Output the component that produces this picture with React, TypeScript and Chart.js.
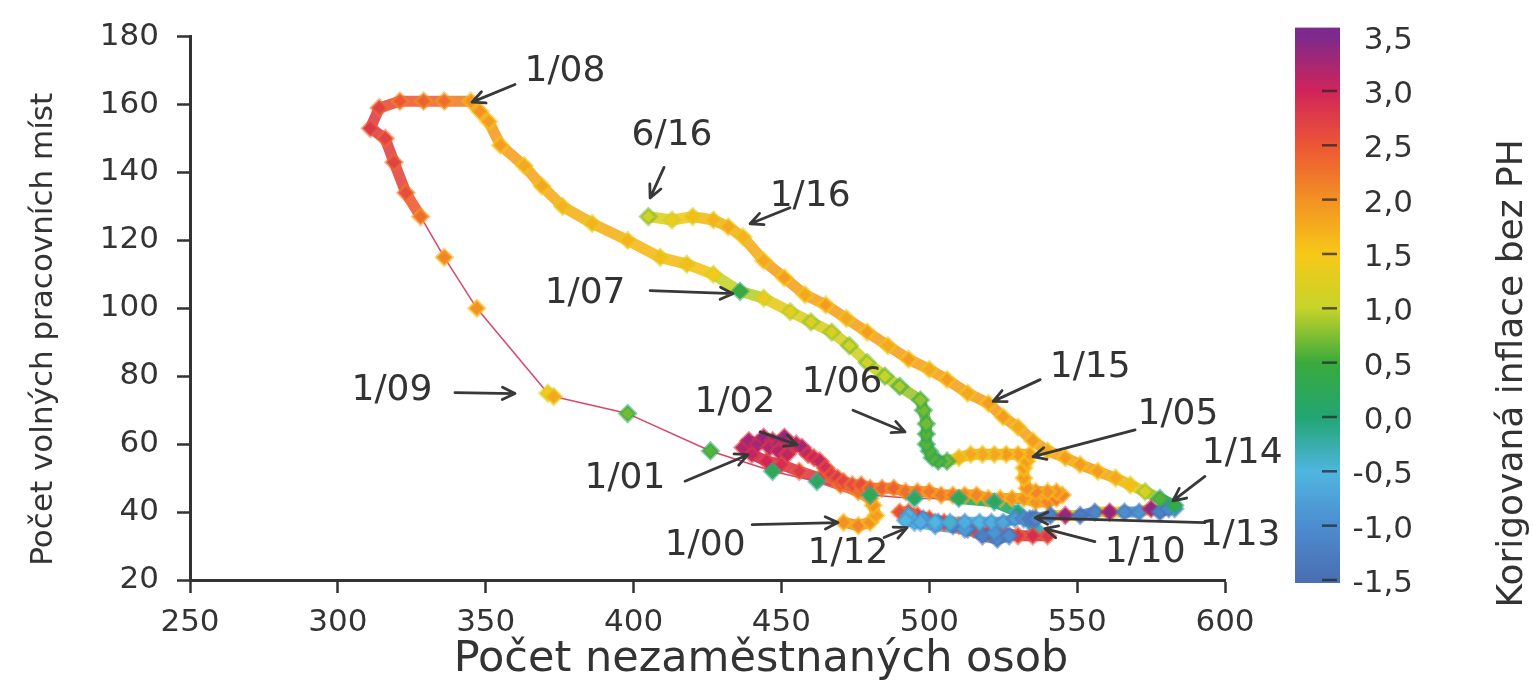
import React, { useEffect, useRef } from "react";
import { Chart, registerables } from "chart.js";

Chart.register(...registerables);

// Monthly path 1/2000 – 6/2016 (thousands)
const unemployed: number[] = [
  471, 476, 480, 482, 481, 480, 476, 470, 463, 456, 450, 445, // 2000
  440, 437, 439, 442, 444, 447, 446, 449, 451, 453, 449, 452, // 2001
  455, 457, 459, 461, 463, 465, 467, 469, 471, 474, 477, 480, // 2002
  484, 488, 492, 496, 500, 504, 508, 512, 516, 520, 524, 528, // 2003
  532, 536, 540, 543, 545, 543, 540, 536, 533, 532, 532, 533, // 2004
  534, 530, 526, 522, 518, 514, 510, 506, 503, 501, 500, 499, // 2005
  499, 499, 498, 497, 490, 485, 479, 473, 467, 460, 453, 444, // 2006
  436, 427, 418, 409, 398, 386, 376, 369, 363, 355, 351, 348, // 2007
  345, 336, 329, 321, 314, 311, 316, 319, 323, 328, 336, 347, // 2008
  371, 373, 398, 426, 447, 462, 480, 495, 510, 522, 530, 536, // 2009
  540, 535, 530, 525, 520, 515, 510, 505, 500, 496, 493, 490, // 2010
  493, 498, 503, 508, 513, 518, 523, 527, 522, 512, 502, 495, // 2011
  492, 497, 502, 507, 512, 517, 521, 525, 529, 532, 534, 535, // 2012
  536, 541, 546, 551, 556, 561, 566, 571, 575, 578, 581, 583, // 2013
  583, 578, 573, 568, 563, 557, 551, 546, 540, 535, 530, 525, // 2014
  520, 513, 506, 500, 493, 486, 479, 472, 465, 458, 451, 444, // 2015
  437, 432, 427, 420, 413, 405, // 2016
];

const vacancies: number[] = [
  37, 36, 37, 39, 42, 44, 46, 48, 50, 52, 54, 55, // 2000
  57, 59, 61, 60, 62, 61, 59, 60, 62, 60, 58, 57, // 2001
  60, 59, 57, 56, 55, 53, 51, 50, 49, 48, 48, 47, // 2002
  47, 47, 46, 46, 46, 45, 45, 45, 45, 44, 44, 44, // 2003
  44, 43, 43, 44, 45, 46, 46, 46, 47, 50, 53, 55, // 2004
  57, 57, 57, 57, 57, 57, 56, 55, 55, 56, 58, 60, // 2005
  63, 66, 70, 73, 77, 80, 84, 89, 93, 96, 99, 103, // 2006
  105, 110, 113, 115, 120, 125, 130, 136, 142, 148, 155, 158, // 2007
  161, 161, 161, 161, 159, 153, 150, 143, 134, 127, 115, 100, // 2008
  75, 74, 69, 58, 52, 49, 45, 44, 44, 43, 40, 35, // 2009
  33, 33, 33, 34, 34, 35, 36, 37, 38, 39, 40, 40, // 2010
  39, 38, 37, 36, 35, 33, 32, 33, 34, 35, 36, 37, // 2011
  37.5, 37, 37, 37, 37, 37, 37, 37, 38, 38, 38, 38, // 2012
  38, 39, 39, 39, 40, 40, 40, 40, 41, 40, 41, 41, // 2013
  42, 44, 46, 48, 50, 52, 54, 56, 58, 61, 65, 68, // 2014
  72, 75, 79, 82, 85, 89, 93, 97, 101, 104, 109, 114, // 2015
  121, 124, 126, 127, 126, 127, // 2016
];

const inflation: number[] = [
  2.0, 2.1, 2.0, 1.9, 2.0, 2.1, 2.3, 2.5, 2.7, 2.8, 2.9, 3.0, // 2000
  3.1, 3.2, 3.3, 3.3, 3.4, 3.3, 3.2, 3.3, 3.4, 3.3, 3.2, 3.1, // 2001
  3.2, 3.3, 3.1, 3.0, 3.1, 2.9, 2.8, 2.8, 2.7, 2.6, 2.6, 2.5, // 2002
  2.4, 2.4, 2.3, 2.3, 2.2, 2.2, 2.2, 2.1, 2.1, 2.1, 2.0, 2.0, // 2003
  2.0, 2.0, 2.1, 2.2, 2.1, 2.0, 2.0, 2.1, 2.0, 1.9, 1.9, 1.9, // 2004
  1.9, 1.9, 1.9, 1.8, 1.8, 1.8, 1.7, 0.7, 0.6, 0.6, 0.6, 0.6, // 2005
  0.6, 0.7, 0.7, 0.8, 0.9, 1.0, 1.1, 1.1, 1.2, 1.2, 1.3, 1.4, // 2006
  0.5, 1.5, 1.6, 1.6, 1.7, 1.7, 1.7, 1.8, 1.8, 1.9, 1.9, 2.0, // 2007
  2.0, 2.3, 2.4, 2.5, 2.7, 2.8, 2.7, 2.7, 2.6, 2.3, 2.1, 2.0, // 2008
  1.5, 1.8, 0.7, 0.6, 0.3, 0.2, 0.3, 0.2, 0.3, 0.2, 0.0, -0.3, // 2009
  2.8, 2.9, 2.8, 2.7, 2.8, 2.7, 2.6, 2.8, 2.7, 2.8, 2.7, 2.6, // 2010
  -0.5, -0.8, -1.0, -1.2, -1.3, -1.2, -1.1, -1.0, -0.9, -0.8, -0.6, -0.5, // 2011
  -0.5, -0.6, -0.5, -0.4, -0.6, -0.5, -0.6, -0.7, -0.8, -0.9, -1.0, -1.0, // 2012
  -1.1, -1.2, 3.4, -1.3, -1.1, 3.4, -1.0, -0.9, 3.4, -1.2, -1.0, -0.8, // 2013
  0.4, 0.6, 1.2, 1.6, 1.8, 1.9, 1.9, 1.9, 1.8, 1.9, 1.8, 1.9, // 2014
  1.9, 1.8, 1.9, 1.8, 1.9, 1.8, 1.9, 1.8, 1.9, 1.8, 1.9, 1.8, // 2015
  1.7, 1.8, 1.7, 1.6, 1.4, 1.1, // 2016
];

const xTickValues = [250, 300, 350, 400, 450, 500, 550, 600];
const yTickValues = [20, 40, 60, 80, 100, 120, 140, 160, 180];
const colorbarTicks = [3.5, 3.0, 2.5, 2.0, 1.5, 1.0, 0.5, 0.0, -0.5, -1.0, -1.5];
const colorStopValues = [-1.5, -1.0, -0.5, 0.0, 0.5, 1.0, 1.5, 2.0, 2.5, 3.0, 3.5];
const colorStopColors = [
  "#4a6fb3", "#4c8dcf", "#4fb6e0", "#22a572", "#3aaa3c", "#c6d42a",
  "#f7c817", "#f39124", "#ec5634", "#d1245a", "#7d2a8c",
];

const xTitle = "Počet nezaměstnaných osob";
const yTitle = "Počet volných pracovních míst";
const cbTitle = "Korigovaná inflace bez PH";

// Annotations (data coordinates)
const annLabels = ["1/08", "6/16", "1/16", "1/07", "1/15", "1/06", "1/09", "1/02", "1/05", "1/14", "1/01", "1/13", "1/00", "1/12", "1/10"];
const annTextX = [376.8, 413.0, 459.7, 383.6, 554.4, 470.5, 318.3, 434.3, 584.1, 605.8, 397.1, 605.1, 424.2, 472.5, 573.0];
const annTextY = [169.7, 150.8, 132.8, 104.3, 82.5, 78.1, 75.8, 72.3, 68.8, 57.2, 49.7, 33.1, 30.2, 27.8, 28.1];
const annFromX = [359.9, 410.3, 452.9, 405.6, 537.5, 474.2, 339.6, 442.8, 569.6, 593.2, 417.4, 593.2, 440.1, 484.7, 556.0];
const annFromY = [165.9, 141.5, 129.6, 105.2, 79.0, 70.0, 75.2, 63.6, 64.2, 50.5, 49.1, 36.9, 36.3, 32.5, 31.3];
const annToX = [345.4, 405.6, 439.4, 433.6, 521.6, 491.8, 359.9, 455.3, 535.1, 582.4, 438.7, 535.8, 469.1, 492.5, 539.1];
const annToY = [160.7, 132.5, 124.9, 104.3, 72.6, 63.6, 74.9, 59.8, 56.3, 43.3, 56.9, 38.3, 36.9, 35.4, 35.1];

const FONT = '"DejaVu Sans", sans-serif';
const TEXT_COLOR = "#333333";
const LINE_COLOR = "#d8476a";
const cbMin = -1.5;
const cbMax = 3.5;

function hexToRgb(h: string): number[] {
  const n = parseInt(h.slice(1), 16);
  return [(n >> 16) & 255, (n >> 8) & 255, n & 255];
}

function colorFor(v: number, alpha = 1): string {
  const vv = Math.max(cbMin, Math.min(cbMax, v));
  let i = 0;
  while (i < colorStopValues.length - 2 && vv > colorStopValues[i + 1]) i++;
  const t = (vv - colorStopValues[i]) / (colorStopValues[i + 1] - colorStopValues[i]);
  const a = hexToRgb(colorStopColors[i]);
  const b = hexToRgb(colorStopColors[i + 1]);
  const c = a.map((ai, k) => Math.round(ai + (b[k] - ai) * t));
  return `rgba(${c[0]},${c[1]},${c[2]},${alpha})`;
}

const overlayPlugin = {
  id: "overlay",
  afterDraw(chart: any) {
    const ctx: CanvasRenderingContext2D = chart.ctx;
    const ca = chart.chartArea;
    const xs = chart.scales.x;
    const ys = chart.scales.y;

    // annotations with arrows
    ctx.save();
    ctx.strokeStyle = "#383838";
    ctx.fillStyle = TEXT_COLOR;
    ctx.lineWidth = 2.8;
    ctx.lineCap = "round";
    ctx.lineJoin = "round";
    for (let i = 0; i < annLabels.length; i++) {
      const fx = xs.getPixelForValue(annFromX[i]);
      const fy = ys.getPixelForValue(annFromY[i]);
      const tx = xs.getPixelForValue(annToX[i]);
      const ty = ys.getPixelForValue(annToY[i]);
      ctx.beginPath();
      ctx.moveTo(fx, fy);
      ctx.lineTo(tx, ty);
      const ang = Math.atan2(ty - fy, tx - fx);
      const hl = 14;
      ctx.moveTo(tx - hl * Math.cos(ang - 0.45), ty - hl * Math.sin(ang - 0.45));
      ctx.lineTo(tx, ty);
      ctx.lineTo(tx - hl * Math.cos(ang + 0.45), ty - hl * Math.sin(ang + 0.45));
      ctx.stroke();
      ctx.font = `36px ${FONT}`;
      ctx.textAlign = "center";
      ctx.textBaseline = "middle";
      ctx.fillText(annLabels[i], xs.getPixelForValue(annTextX[i]), ys.getPixelForValue(annTextY[i]));
    }
    ctx.restore();

    // axis titles
    ctx.save();
    ctx.fillStyle = TEXT_COLOR;
    ctx.textAlign = "center";
    ctx.textBaseline = "middle";
    ctx.font = `43px ${FONT}`;
    ctx.fillText(xTitle, ca.left + 571, ca.bottom + 80);
    ctx.translate(ca.left - 146, (ca.top + ca.bottom) / 2 + 21);
    ctx.rotate(-Math.PI / 2);
    ctx.font = `31px ${FONT}`;
    ctx.fillText(yTitle, 0, 0);
    ctx.restore();

    // colorbar
    const cbPix = (v: number) => ca.top + ((cbMax - v) / (cbMax - cbMin)) * (ca.bottom - ca.top);
    const barL = ca.right + 70;
    const barR = ca.right + 115;
    const top = cbPix(cbMax) - 9;
    const bottom = cbPix(cbMin) + 3;
    ctx.save();
    const grad = ctx.createLinearGradient(0, cbPix(cbMax), 0, cbPix(cbMin));
    for (let i = 0; i < colorStopValues.length; i++) {
      grad.addColorStop((cbMax - colorStopValues[i]) / (cbMax - cbMin), colorStopColors[i]);
    }
    ctx.fillStyle = grad;
    ctx.fillRect(barL, top, barR - barL, bottom - top);
    ctx.strokeStyle = "rgba(40,40,40,0.75)";
    ctx.lineWidth = 2.5;
    for (const v of colorbarTicks) {
      if (v === cbMax) continue;
      const py = cbPix(v);
      ctx.beginPath();
      ctx.moveTo(barL + 27, py);
      ctx.lineTo(barR - 3, py);
      ctx.stroke();
    }
    ctx.fillStyle = TEXT_COLOR;
    ctx.font = `31px ${FONT}`;
    ctx.textAlign = "right";
    ctx.textBaseline = "middle";
    for (const v of colorbarTicks) {
      ctx.fillText(v.toFixed(1).replace(".", ","), ca.right + 188, cbPix(v) + 4);
    }
    ctx.translate(ca.right + 288, (ca.top + ca.bottom) / 2 + 65);
    ctx.rotate(-Math.PI / 2);
    ctx.textAlign = "center";
    ctx.font = `36px ${FONT}`;
    ctx.fillText(cbTitle, 0, 0);
    ctx.restore();
  },
};

export default function App() {
  const canvasRef = useRef<HTMLCanvasElement | null>(null);

  useEffect(() => {
    if (!canvasRef.current) return;
    const points = unemployed.map((x, i) => ({ x, y: vacancies[i] }));
    const axisGrid = {
      display: true,
      drawOnChartArea: false,
      drawTicks: true,
      tickLength: 13,
      tickWidth: 2.5,
      tickColor: "#333333",
    };
    const axisBorder = { display: true, color: "#333333", width: 3 };
    const segLen = (c: any) => Math.hypot(c.p1.x - c.p0.x, c.p1.y - c.p0.y);
    const chart = new Chart(canvasRef.current, {
      type: "scatter",
      data: {
        datasets: [
          {
            data: points,
            showLine: true,
            borderColor: LINE_COLOR,
            borderWidth: 1.5,
            tension: 0,
            borderJoinStyle: "round",
            borderCapStyle: "round",
            segment: {
              borderColor: (c: any) =>
                segLen(c) < 42
                  ? colorFor((inflation[c.p0DataIndex] + inflation[c.p1DataIndex]) / 2, 0.9)
                  : LINE_COLOR,
              borderWidth: (c: any) => (segLen(c) < 42 ? 11 : 1.5),
            },
            pointStyle: "rectRot",
            pointRadius: 8,
            pointHoverRadius: 8,
            pointBackgroundColor: inflation.map((v) => colorFor(v)),
            pointBorderColor: inflation.map((v) => colorFor(v - 0.4, 0.55)),
            pointBorderWidth: 3,
          },
        ],
      },
      options: {
        animation: false,
        responsive: true,
        maintainAspectRatio: false,
        events: [],
        layout: { padding: { left: 0, top: 30, right: 308, bottom: 0 } },
        plugins: { legend: { display: false }, tooltip: { enabled: false } },
        scales: {
          x: {
            type: "linear",
            min: xTickValues[0],
            max: xTickValues[xTickValues.length - 1],
            afterBuildTicks: (s: any) => {
              s.ticks = xTickValues.map((v) => ({ value: v }));
            },
            afterFit: (s: any) => {
              s.height = 111;
            },
            ticks: {
              font: { family: FONT, size: 31 },
              color: TEXT_COLOR,
              padding: 11,
              maxRotation: 0,
              autoSkip: false,
            },
            grid: axisGrid,
            border: axisBorder,
          },
          y: {
            type: "linear",
            min: yTickValues[0],
            max: yTickValues[yTickValues.length - 1],
            afterBuildTicks: (s: any) => {
              s.ticks = yTickValues.map((v) => ({ value: v }));
            },
            afterFit: (s: any) => {
              s.width = 190;
            },
            ticks: {
              font: { family: FONT, size: 31 },
              color: TEXT_COLOR,
              padding: 18,
              autoSkip: false,
            },
            grid: axisGrid,
            border: axisBorder,
          },
        },
      } as any,
      plugins: [overlayPlugin],
    });
    return () => chart.destroy();
  }, []);

  return (
    <div
      style={{
        position: "fixed",
        left: 0,
        top: 0,
        width: "1533px",
        height: "691px",
        background: "#ffffff",
      }}
    >
      <canvas ref={canvasRef} />
    </div>
  );
}
